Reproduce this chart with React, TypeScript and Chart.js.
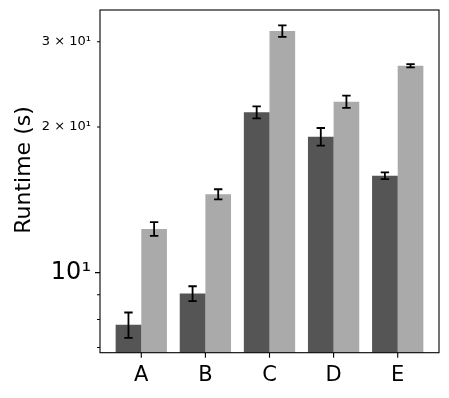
import React, { useEffect, useRef } from 'react';
import { Chart, registerables } from 'chart.js';

Chart.register(...registerables);

const categories = ['A', 'B', 'C', 'D', 'E'];
const seriesDark = [7.8, 9.05, 21.45, 19.1, 15.86];
const errDark = [0.47, 0.32, 0.62, 0.8, 0.25];
const seriesLight = [12.31, 14.52, 31.58, 22.56, 26.77];
const errLight = [0.4, 0.35, 0.87, 0.65, 0.2];
const yTickValues = [7, 8, 9, 10, 20, 30];
const yTickLabels = ['', '', '', '10¹', '2 × 10¹', '3 × 10¹'];
const yMajorValues = [10];
const yMin = 6.83;
const yMax = 34.9;
const xMin = -0.644;
const xMax = 4.644;
const yTitle = 'Runtime (s)';

const FONT = "'DejaVu Sans', sans-serif";

const decorPlugin = {
  id: 'decor',
  afterDatasetsDraw(chart: any) {
    const ctx = chart.ctx;
    const yScale = chart.scales.y;
    ctx.save();
    ctx.strokeStyle = '#000';
    ctx.lineWidth = 1.8;
    chart.data.datasets.forEach((ds: any, di: number) => {
      const meta = chart.getDatasetMeta(di);
      meta.data.forEach((el: any, i: number) => {
        const v = ds.data[i].y;
        const e = ds.errors[i];
        const yTop = yScale.getPixelForValue(v + e);
        const yBot = yScale.getPixelForValue(v - e);
        const x = el.x;
        const cap = 4.2;
        ctx.beginPath();
        ctx.moveTo(x, yTop);
        ctx.lineTo(x, yBot);
        ctx.moveTo(x - cap, yTop);
        ctx.lineTo(x + cap, yTop);
        ctx.moveTo(x - cap, yBot);
        ctx.lineTo(x + cap, yBot);
        ctx.stroke();
      });
    });
    ctx.restore();
  },
  afterDraw(chart: any) {
    const ctx = chart.ctx;
    const { left, right, top, bottom } = chart.chartArea;
    const yScale = chart.scales.y;
    const xScale = chart.scales.x;
    ctx.save();
    ctx.strokeStyle = '#000';
    ctx.lineWidth = 1.1;
    ctx.strokeRect(left, top, right - left, bottom - top);
    ctx.beginPath();
    yTickValues.forEach((v) => {
      const y = yScale.getPixelForValue(v);
      const len = yMajorValues.includes(v) ? 5 : 3;
      ctx.moveTo(left - len, y);
      ctx.lineTo(left, y);
    });
    categories.forEach((_, i) => {
      const x = xScale.getPixelForValue(i);
      ctx.moveTo(x, bottom);
      ctx.lineTo(x, bottom + 5);
    });
    ctx.stroke();
    ctx.fillStyle = '#000';
    ctx.font = `22px ${FONT}`;
    ctx.textAlign = 'center';
    ctx.textBaseline = 'middle';
    ctx.translate(24, 170);
    ctx.rotate(-Math.PI / 2);
    ctx.fillText(yTitle, 0, 0);
    ctx.restore();
  },
};

export default function App() {
  const ref = useRef<HTMLCanvasElement | null>(null);
  useEffect(() => {
    if (!ref.current) return;
    const chart = new Chart(ref.current, {
      type: 'bar',
      data: {
        datasets: [
          {
            label: 'dark',
            data: seriesDark.map((v, i) => ({ x: i, y: v })),
            errors: errDark,
            backgroundColor: '#555555',
            borderWidth: 0,
          } as any,
          {
            label: 'light',
            data: seriesLight.map((v, i) => ({ x: i, y: v })),
            errors: errLight,
            backgroundColor: '#aaaaaa',
            borderWidth: 0,
          } as any,
        ],
      },
      options: {
        responsive: false,
        animation: false,
        devicePixelRatio: 1,
        layout: { padding: { left: 0, right: 10, top: 10, bottom: 0 } },
        plugins: { legend: { display: false }, tooltip: { enabled: false } },
        datasets: { bar: { categoryPercentage: 0.8, barPercentage: 1.0 } },
        scales: {
          x: {
            type: 'linear',
            min: xMin,
            max: xMax,
            offset: false,
            grid: { display: false, drawTicks: false },
            border: { display: false },
            afterBuildTicks: (scale: any) => {
              scale.ticks = categories.map((_, i) => ({ value: i }));
            },
            afterFit: (scale: any) => {
              scale.height = 45.3;
              scale.paddingLeft = 0;
              scale.paddingRight = 0;
            },
            ticks: {
              autoSkip: false,
              maxRotation: 0,
              padding: 10,
              color: '#000',
              font: { family: FONT, size: 21 },
              callback: (v: any) => categories[Math.round(Number(v))] ?? '',
            },
          },
          y: {
            type: 'logarithmic',
            min: yMin,
            max: yMax,
            grid: { display: false, drawTicks: false },
            border: { display: false },
            afterBuildTicks: (scale: any) => {
              scale.ticks = yTickValues.map((v) => ({ value: v, major: yMajorValues.includes(v) }));
            },
            afterFit: (scale: any) => {
              scale.width = 100;
              scale.paddingTop = 0;
              scale.paddingBottom = 0;
            },
            ticks: {
              autoSkip: false,
              padding: 9,
              color: '#000',
              font: (c: any) =>
                c.tick && yMajorValues.includes(c.tick.value)
                  ? { family: FONT, size: 24 }
                  : { family: FONT, size: 13 },
              callback: (v: any) => {
                const idx = yTickValues.indexOf(Number(v));
                return idx >= 0 ? yTickLabels[idx] : '';
              },
            },
          },
        },
      },
      plugins: [decorPlugin],
    });
    return () => chart.destroy();
  }, []);
  return (
    <div style={{ position: 'fixed', left: 0, top: 0, width: 449, height: 398, background: '#fff' }}>
      <canvas ref={ref} width={449} height={398} style={{ width: 449, height: 398, display: 'block' }} />
    </div>
  );
}
